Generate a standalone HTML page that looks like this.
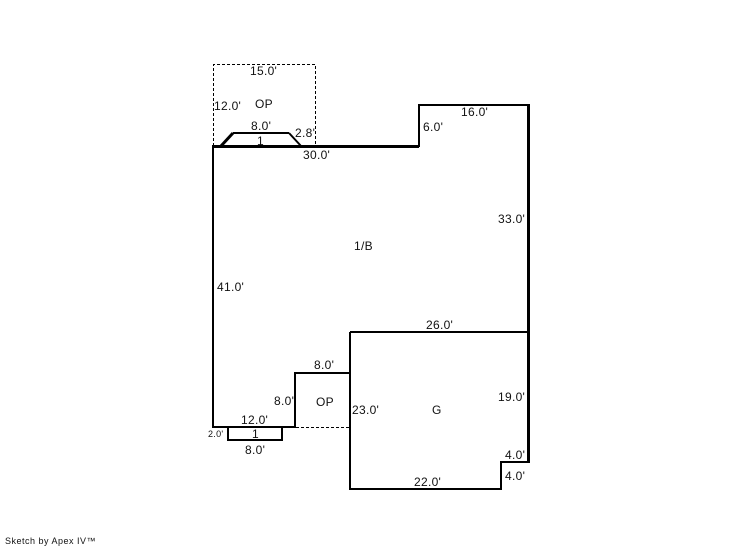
<!DOCTYPE html>
<html>
<head>
<meta charset="utf-8">
<style>
html,body{margin:0;padding:0;background:#fff;width:746px;height:547px;overflow:hidden}
svg{display:block}
text{font-family:"Liberation Sans",Arial,sans-serif;font-size:12px;fill:#111;letter-spacing:.3px}
</style>
</head>
<body>
<svg width="746" height="547" viewBox="0 0 746 547" xmlns="http://www.w3.org/2000/svg">
<g fill="none" stroke="#000" stroke-width="1" stroke-dasharray="3 2" shape-rendering="crispEdges">
<path d="M213.5 146V64.5H315.5V146"/>
<path d="M296 427.5H349"/>
</g>
<g fill="none" stroke="#000" stroke-width="2" shape-rendering="crispEdges">
<path d="M213 146V427H295V373H350"/>
<path d="M212 146H419V105H528"/>
<path d="M350 332H528"/>
<path d="M350 332V489H501V462H528"/>
<path d="M228 428V440H282V428"/>
<path d="M233 133H289"/>
</g>
<path d="M528.500 104V463" fill="none" stroke="#000" stroke-width="3" shape-rendering="crispEdges"/>
<path d="M212 146.500H419" fill="none" stroke="#000" stroke-width="3" shape-rendering="crispEdges"/>
<path d="M221 146L233 133" fill="none" stroke="#000" stroke-width="3"/>
<path d="M289 133L301 146" fill="none" stroke="#000" stroke-width="2"/>
<text x="250" y="75">15.0'</text>
<text x="214" y="110">12.0'</text>
<text x="255" y="108">OP</text>
<text x="251" y="130">8.0'</text>
<text x="295" y="137">2.8'</text>
<text x="257" y="145">1</text>
<text x="303" y="159">30.0'</text>
<text x="423" y="131">6.0'</text>
<text x="461" y="116">16.0'</text>
<text x="498" y="223">33.0'</text>
<text x="354" y="250">1/B</text>
<text x="217" y="291">41.0'</text>
<text x="426" y="329">26.0'</text>
<text x="314" y="369">8.0'</text>
<text x="274" y="405">8.0'</text>
<text x="316" y="406">OP</text>
<text x="241" y="424">12.0'</text>
<text x="352" y="414">23.0'</text>
<text x="432" y="414">G</text>
<text x="498" y="401">19.0'</text>
<text x="505" y="459">4.0'</text>
<text x="505" y="480">4.0'</text>
<text x="414" y="486">22.0'</text>
<text x="208" y="437" style="font-size:9px">2.0'</text>
<text x="252" y="438">1</text>
<text x="245" y="454">8.0'</text>
<text x="5" y="544" style="font-size:9px;letter-spacing:.5px">Sketch by Apex IV™</text>
</svg>
</body>
</html>
